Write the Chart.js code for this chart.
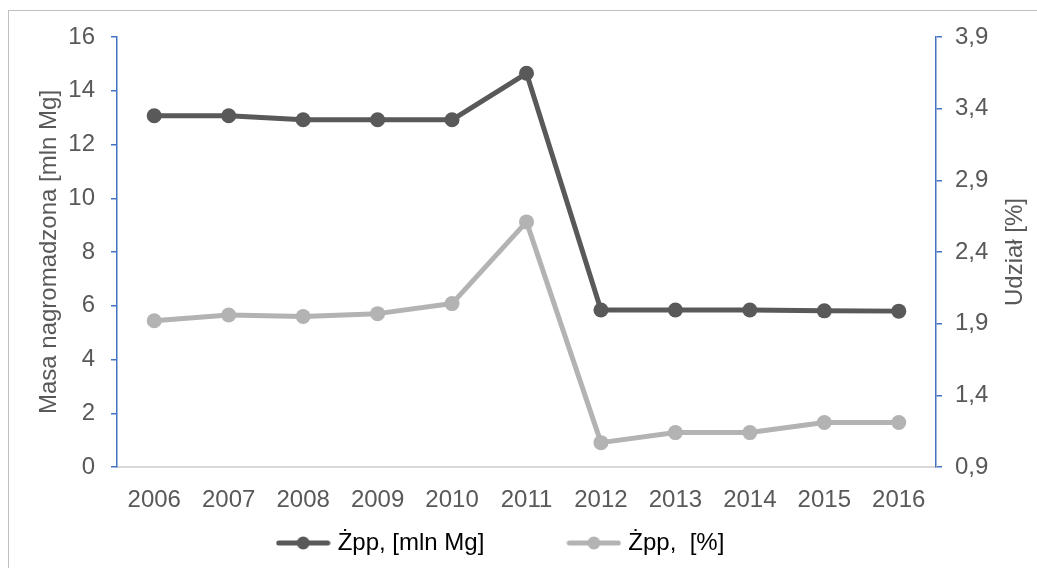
<!DOCTYPE html>
<html>
<head>
<meta charset="utf-8">
<script src="https://cdn.jsdelivr.net/npm/chart.js@4.4.1/dist/chart.umd.min.js"></script>
<style>
    html, body { margin: 0; padding: 0; background: #fff; }
    #wrap { width: 1037px; height: 568px; }
</style>
</head>
<body>
<div id="wrap"><canvas id="chart" width="1037" height="568"></canvas></div>
<script>
// values
const years = ['2006', '2007', '2008', '2009', '2010', '2011', '2012', '2013', '2014', '2015', '2016'];
const massMlnMg = [13.07, 13.07, 12.92, 12.92, 12.92, 14.65, 5.84, 5.84, 5.84, 5.81, 5.80];
const sharePct = [1.92, 1.96, 1.95, 1.97, 2.04, 2.61, 1.07, 1.14, 1.14, 1.21, 1.21];
const seriesNames = ['Żpp, [mln Mg]', 'Żpp,  [%]'];
const axisTitles = ['Masa nagromadzona [mln Mg]', 'Udział [%]'];
const leftRange = [0, 16, 2];
const rightRange = [0.9, 3.9, 0.5];

const darkGray = '#595959';
const lightGray = '#b3b3b3';
const axisBlue = '#4472c4';
const textColor = '#595959';
const fontFamily = '"Liberation Sans", Arial, sans-serif';

Chart.defaults.font.family = fontFamily;
Chart.defaults.font.size = 24;
Chart.defaults.color = textColor;

// line + dot marker like the office legend
function legendMarker(color) {
    const c = document.createElement('canvas');
    c.width = 55;
    c.height = 16;
    const g = c.getContext('2d');
    if (color) {
        g.strokeStyle = color;
        g.lineWidth = 5;
        g.lineCap = 'round';
        g.beginPath();
        g.moveTo(3, 8);
        g.lineTo(52, 8);
        g.stroke();
        g.fillStyle = color;
        g.beginPath();
        g.arc(27.5, 8, 6.5, 0, Math.PI * 2);
        g.fill();
    }
    return c;
}

const framePlugin = {
    id: 'frame',
    beforeDraw(chart) {
        const ctx = chart.ctx;
        ctx.save();
        ctx.fillStyle = '#ffffff';
        ctx.fillRect(0, 0, chart.width, chart.height);
        ctx.strokeStyle = '#bfbfbf';
        ctx.lineWidth = 1;
        ctx.strokeRect(8.5, 10.5, 1100, 700);
        ctx.restore();
    },
    afterDraw(chart) {
        const ctx = chart.ctx;
        const area = chart.chartArea;
        const midY = (area.top + area.bottom) / 2;
        ctx.save();
        ctx.fillStyle = textColor;
        ctx.font = '24px ' + fontFamily;
        ctx.textAlign = 'center';
        ctx.textBaseline = 'middle';
        [[49, axisTitles[0]], [1015, axisTitles[1]]].forEach(function(t) {
            ctx.save();
            ctx.translate(t[0], midY);
            ctx.rotate(-Math.PI / 2);
            ctx.fillText(t[1], 0, 0);
            ctx.restore();
        });
        ctx.restore();
    }
};

const ctx = document.getElementById('chart').getContext('2d');
new Chart(ctx, {
    type: 'line',
    data: {
        labels: years,
        datasets: [
            {
                label: seriesNames[0],
                data: massMlnMg,
                yAxisID: 'yLeft',
                borderColor: darkGray,
                backgroundColor: darkGray,
                borderWidth: 5,
                borderCapStyle: 'round',
                borderJoinStyle: 'round',
                pointRadius: 7.5,
                pointBorderWidth: 0,
                pointBackgroundColor: darkGray,
                tension: 0
            },
            {
                label: seriesNames[1],
                data: sharePct,
                yAxisID: 'yRight',
                borderColor: lightGray,
                backgroundColor: lightGray,
                borderWidth: 5,
                borderCapStyle: 'round',
                borderJoinStyle: 'round',
                pointRadius: 7.5,
                pointBorderWidth: 0,
                pointBackgroundColor: lightGray,
                tension: 0
            }
        ]
    },
    options: {
        responsive: false,
        animation: false,
        layout: {
            padding: { top: 37, right: 32, bottom: 3, left: 0 }
        },
        scales: {
            x: {
                offset: true,
                grid: { display: false },
                border: { color: '#d9d9d9', width: 2 },
                ticks: { padding: 11, maxRotation: 0 },
                afterFit: function(scale) { scale.height = 49; }
            },
            yLeft: {
                position: 'left',
                min: leftRange[0],
                max: leftRange[1],
                ticks: { stepSize: leftRange[2], padding: 16 },
                grid: { drawOnChartArea: false, color: axisBlue, tickLength: 6, lineWidth: 1.5 },
                border: { color: axisBlue, width: 1.5 },
                afterFit: function(scale) { scale.width = 117; }
            },
            yRight: {
                position: 'right',
                min: rightRange[0],
                max: rightRange[1],
                ticks: {
                    stepSize: rightRange[2],
                    padding: 13,
                    callback: function(v) { return v.toFixed(1).replace('.', ','); }
                },
                grid: { drawOnChartArea: false, color: axisBlue, tickLength: 6, lineWidth: 1.5 },
                border: { color: axisBlue, width: 1.5 },
                afterFit: function(scale) { scale.width = 69; }
            }
        },
        plugins: {
            tooltip: { enabled: false },
            legend: {
                position: 'bottom',
                onClick: function() {},
                labels: {
                    usePointStyle: true,
                    pointStyleWidth: 45,
                    padding: 15,
                    color: textColor,
                    font: { size: 24, family: fontFamily },
                    generateLabels: function(chart) {
                        const items = chart.data.datasets.map(function(ds, i) {
                            return {
                                text: ds.label,
                                fillStyle: ds.borderColor,
                                strokeStyle: ds.borderColor,
                                lineWidth: 0,
                                pointStyle: legendMarker(ds.borderColor),
                                hidden: false,
                                datasetIndex: i
                            };
                        });
                        // empty slot to widen the gap between the two entries
                        items.splice(1, 0, {
                            text: '',
                            fillStyle: 'rgba(0,0,0,0)',
                            strokeStyle: 'rgba(0,0,0,0)',
                            lineWidth: 0,
                            pointStyle: legendMarker(null),
                            hidden: false
                        });
                        return items;
                    }
                }
            }
        }
    },
    plugins: [framePlugin]
});
</script>
</body>
</html>
